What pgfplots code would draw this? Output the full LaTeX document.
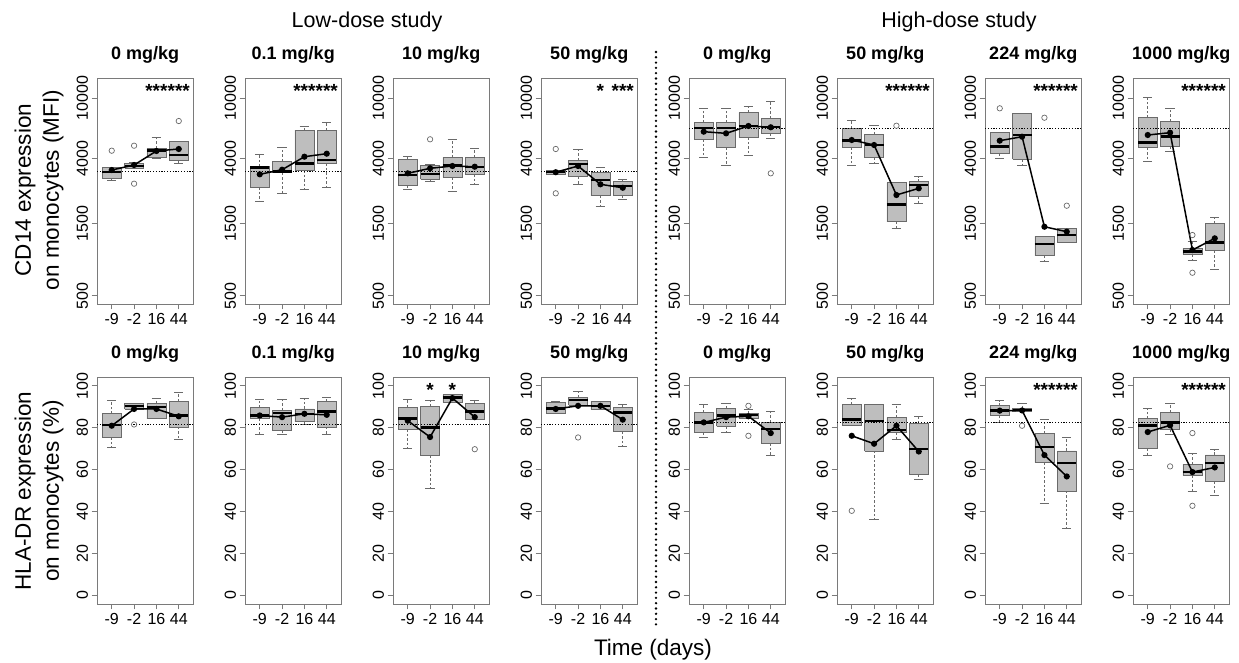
\documentclass[border=0pt]{standalone}
\usepackage{pgfplots}
\pgfplotsset{compat=1.18}
\usepackage{fontspec}
\setmainfont{Liberation Sans}

\definecolor{boxfill}{HTML}{BEBEBE}
\definecolor{boxline}{HTML}{6A6A6A}
\definecolor{framec}{HTML}{7A7A7A}

\newcommand{\tickfont}{\fontsize{16}{18}\selectfont}
\newcommand{\labfont}{\fontsize{22.5}{28}\selectfont}

\pgfplotsset{
  whisk/.style={boxline, line width=0.6pt, dash pattern=on 2.5pt off 2pt},
  cap/.style={boxline, line width=0.7pt},
  boxs/.style={fill=boxfill, draw=boxline, line width=0.7pt, line join=miter},
  med/.style={black, line width=2.4pt},
  outl/.style={only marks, mark=o, mark size=2.7pt, mark options={draw=boxline, line width=0.7pt}},
  panel/.style={
    anchor=south west, scale only axis, width=96.5pt, clip=false,
    xmin=0.34, xmax=4.66, xtick={1,2,3,4}, xticklabels={-9,-2,16,44},
    tick pos=left, tick align=outside, major tick length=5.5pt,
    axis line style={draw=framec, line width=0.8pt},
    every tick/.style={framec, line width=0.8pt},
    tick label style={font=\tickfont, text=black},
    yticklabel style={rotate=90, anchor=south},
    minor tick num=0,
    title style={at={(0.5,1)}, anchor=center, yshift=17pt, font=\bfseries\fontsize{18}{20}\selectfont},
  },
  toprow/.style={panel, height=226pt, ymin=441.6, ymax=13543,
    ytick={500,1500,4000,10000}, yticklabels={500,1500,4000,10000}},
  botrow/.style={panel, height=227pt, ymin=-4.16, ymax=104.16,
    ytick={0,20,40,60,80,100}, yticklabels={0,20,40,60,80,100}},
}

% box: position, lower whisker, lower quartile, median, upper quartile, upper whisker, outliers
\newcommand{\bx}[7]{%
  \pgfmathsetmacro\bxl{#1-0.425}\pgfmathsetmacro\bxr{#1+0.425}%
  \pgfmathsetmacro\cpl{#1-0.21}\pgfmathsetmacro\cpr{#1+0.21}%
  \edef\doit{%
    \noexpand\addplot[whisk] coordinates {(#1,#3) (#1,#2)};
    \noexpand\addplot[whisk] coordinates {(#1,#5) (#1,#6)};
    \noexpand\addplot[cap] coordinates {(\cpl,#2) (\cpr,#2)};
    \noexpand\addplot[cap] coordinates {(\cpl,#6) (\cpr,#6)};
    \noexpand\addplot[boxs] coordinates {(\bxl,#3) (\bxr,#3) (\bxr,#5) (\bxl,#5) (\bxl,#3)};
    \noexpand\addplot[med] coordinates {(\bxl,#4) (\bxr,#4)};
  }\doit
  \if\relax\detokenize{#7}\relax\else\addplot[outl] coordinates {#7};\fi
}
\newcommand{\mn}[4]{\addplot[black, line width=1.5pt, mark=*, mark size=2.3pt]
  coordinates {(1,#1) (2,#2) (3,#3) (4,#4)};}
\newcommand{\rf}[1]{\addplot[black, line width=0.9pt, dash pattern=on 1.1pt off 1.7pt]
  coordinates {(0.34,#1) (4.66,#1)};}
\newcommand{\st}[3]{\node[font=\bfseries\fontsize{19}{20}\selectfont, inner sep=0pt] at (axis cs:#1,#2) {#3};}

\begin{document}
\begin{tikzpicture}
\useasboundingbox (0,0) rectangle (1239pt,663pt);

% ---------- CD14, low dose ----------
\begin{axis}[toprow, ymode=log, at={(97pt,359pt)}, title={0 mg/kg}]
\bx{1}{2888}{2964}{3275}{3500}{3520}{(1,4502)}
\bx{2}{3420}{3448}{3586}{3718}{3750}{(2,4856) (2,2731)}
\bx{3}{4000}{4048}{4502}{4668}{5481}{}
\bx{4}{3737}{3892}{4217}{5160}{5160}{(4,7057)}
\rf{3275}
\mn{3360}{3624}{4480}{4619}
\st{3}{11117}{***}\st{4}{11117}{***}
\end{axis}

\begin{axis}[toprow, ymode=log, at={(245pt,359pt)}, title={0.1 mg/kg}]
\bx{1}{2079}{2597}{3500}{3532}{4263}{}
\bx{2}{2361}{3226}{3292}{3851}{4711}{}
\bx{3}{2520}{3360}{3718}{6159}{6545}{}
\bx{4}{2568}{3718}{3910}{6159}{6920}{}
\rf{3275}
\mn{3148}{3375}{4110}{4302}
\st{3}{11117}{***}\st{4}{11117}{***}
\end{axis}

\begin{axis}[toprow, ymode=log, at={(393pt,359pt)}, title={10 mg/kg}]
\bx{1}{2520}{2665}{3115}{3950}{4110}{}
\bx{2}{2814}{2919}{3164}{3624}{3650}{(2,5350)}
\bx{3}{2419}{3008}{3624}{4073}{5350}{}
\bx{4}{2718}{3148}{3532}{4073}{4668}{}
\rf{3275}
\mn{3196}{3448}{3570}{3532}
\end{axis}

\begin{axis}[toprow, ymode=log, at={(541pt,359pt)}, title={50 mg/kg}]
\bx{1}{3164}{3164}{3260}{3360}{3360}{(1,4619) (1,2361)}
\bx{2}{2706}{3036}{3680}{3910}{4619}{}
\bx{3}{1927}{2277}{2888}{3226}{3500}{}
\bx{4}{2156}{2277}{2649}{2814}{2919}{}
\rf{3275}
\mn{3250}{3570}{2706}{2568}
\st{3}{11117}{*}\st{4}{11117}{***}
\end{axis}

% ---------- CD14, high dose ----------
\begin{axis}[toprow, ymode=log, at={(689pt,359pt)}, title={0 mg/kg}]
\bx{1}{4048}{5350}{6320}{6920}{8554}{}
\bx{2}{3608}{4711}{6320}{6920}{8600}{}
\bx{3}{4217}{5513}{6573}{8004}{8858}{}
\bx{4}{5432}{5855}{6418}{7351}{9455}{(4,3196)}
\rf{6320}
\mn{6003}{5855}{6545}{6418}
\end{axis}

\begin{axis}[toprow, ymode=log, at={(837pt,359pt)}, title={50 mg/kg}]
\bx{1}{3624}{4740}{5238}{6320}{7165}{}
\bx{2}{3718}{4048}{4908}{5736}{6645}{}
\bx{3}{1389}{1536}{1998}{2773}{2773}{(3,6573)}
\bx{4}{2029}{2266}{2666}{2814}{3036}{}
\rf{6320}
\mn{5294}{4908}{2301}{2546}
\st{3}{11117}{***}\st{4}{11117}{***}
\end{axis}

\begin{axis}[toprow, ymode=log, at={(985pt,359pt)}, title={224 mg/kg}]
\bx{1}{4000}{4326}{4783}{5950}{5950}{(1,8554)}
\bx{2}{3586}{3969}{5710}{7930}{7930}{}
\bx{3}{846}{917}{1096}{1236}{1236}{(3,7420)}
\bx{4}{1124}{1124}{1255}{1389}{1389}{(4,1957)}
\rf{6320}
\mn{5238}{5565}{1423}{1320}
\st{3}{11117}{***}\st{4}{11117}{***}
\end{axis}

\begin{axis}[toprow, ymode=log, at={(1133pt,359pt)}, title={1000 mg/kg}]
\bx{1}{3811}{4711}{5083}{7420}{10107}{}
\bx{2}{4435}{4783}{5565}{7057}{8554}{}
\bx{3}{850}{941}{975}{1026}{1134}{(3,1255) (3,709)}
\bx{4}{746}{989}{1118}{1499}{1632}{}
\rf{6320}
\mn{5710}{5916}{1000}{1194}
\st{3}{11117}{***}\st{4}{11117}{***}
\end{axis}

% ---------- HLA-DR, low dose ----------
\begin{axis}[botrow, at={(97pt,59pt)}, title={0 mg/kg}]
\bx{1}{70.7}{75.3}{81.2}{86.6}{92.8}{}
\bx{2}{88.9}{88.9}{90.4}{91.4}{91.7}{(2,81.5)}
\bx{3}{84.2}{84.2}{89.8}{91.7}{93.8}{}
\bx{4}{74.2}{80.3}{85.7}{92.5}{96.8}{}
\rf{81.4}
\mn{80.9}{88.9}{88.9}{85.4}
\end{axis}

\begin{axis}[botrow, at={(245pt,59pt)}, title={0.1 mg/kg}]
\bx{1}{76.8}{84.4}{85.8}{89.5}{93.3}{}
\bx{2}{76.8}{78.5}{86.9}{88.2}{93.3}{}
\bx{3}{81.7}{82.8}{86.5}{88.9}{94.1}{}
\bx{4}{76.8}{80.3}{87.7}{92.5}{94.6}{}
\rf{81.4}
\mn{85.8}{85.0}{86.6}{86.1}
\end{axis}

\begin{axis}[botrow, at={(393pt,59pt)}, title={10 mg/kg}]
\bx{1}{69.9}{79.3}{84.4}{89.8}{93.3}{}
\bx{2}{50.8}{66.6}{80.0}{90.1}{93.0}{}
\bx{3}{92.0}{92.0}{94.4}{95.9}{95.9}{}
\bx{4}{84.1}{84.1}{87.7}{91.7}{93.0}{(4,69.7)}
\rf{81.4}
\mn{83.3}{75.5}{94.1}{85.0}
\st{2}{97.8}{*}\st{3}{97.8}{*}
\end{axis}

\begin{axis}[botrow, at={(541pt,59pt)}, title={50 mg/kg}]
\bx{1}{86.6}{86.6}{89.2}{92.0}{92.5}{}
\bx{2}{90.8}{90.8}{93.3}{94.6}{97.3}{(2,75.3)}
\bx{3}{88.9}{88.9}{90.4}{92.5}{92.5}{}
\bx{4}{71.0}{78.0}{87.3}{89.6}{91.2}{}
\rf{81.4}
\mn{88.9}{90.4}{90.4}{83.8}
\end{axis}

% ---------- HLA-DR, high dose ----------
\begin{axis}[botrow, at={(689pt,59pt)}, title={0 mg/kg}]
\bx{1}{75.5}{77.7}{82.5}{87.3}{90.9}{}
\bx{2}{77.7}{80.6}{85.7}{89.3}{91.7}{}
\bx{3}{84.4}{84.4}{86.1}{86.9}{88.5}{(3,90.4) (3,76.1)}
\bx{4}{67.0}{72.6}{79.3}{82.5}{87.7}{}
\rf{82.5}
\mn{82.5}{85.0}{85.4}{77.4}
\end{axis}

\begin{axis}[botrow, at={(837pt,59pt)}, title={50 mg/kg}]
\bx{1}{80.9}{80.9}{83.8}{90.9}{93.8}{(1,40.3)}
\bx{2}{36.3}{68.9}{83.3}{91.2}{91.2}{}
\bx{3}{74.2}{77.9}{79.0}{84.9}{91.2}{}
\bx{4}{55.1}{57.8}{69.9}{82.2}{85.4}{}
\rf{82.5}
\mn{76.1}{72.3}{80.9}{68.6}
\end{axis}

\begin{axis}[botrow, at={(985pt,59pt)}, title={224 mg/kg}]
\bx{1}{82.5}{85.7}{88.2}{90.4}{92.8}{}
\bx{2}{87.6}{87.6}{88.5}{89.3}{91.7}{(2,80.9)}
\bx{3}{43.9}{63.4}{70.7}{77.4}{83.8}{}
\bx{4}{32.0}{49.8}{63.1}{68.9}{75.5}{}
\rf{82.5}
\mn{88.1}{88.2}{66.9}{56.7}
\st{3}{97.8}{***}\st{4}{97.8}{***}
\end{axis}

\begin{axis}[botrow, at={(1133pt,59pt)}, title={1000 mg/kg}]
\bx{1}{66.6}{70.2}{81.1}{84.2}{89.3}{}
\bx{2}{76.9}{79.0}{82.5}{87.4}{91.7}{(2,61.5)}
\bx{3}{49.8}{57.2}{58.8}{62.6}{67.8}{(3,77.4) (3,42.7)}
\bx{4}{47.6}{54.3}{63.1}{67.0}{69.4}{}
\rf{82.5}
\mn{77.9}{81.1}{58.8}{61.0}
\st{3}{97.8}{***}\st{4}{97.8}{***}
\end{axis}

% ---------- shared labels ----------
\draw[black, line width=2.6pt, line cap=round, dash pattern=on 0pt off 5.3pt]
  (656pt,611pt) -- (656pt,36pt);
\node[font=\fontsize{21.5}{24}\selectfont] at (367pt,641pt) {Low-dose study};
\node[font=\fontsize{21.5}{24}\selectfont] at (959pt,641pt) {High-dose study};
\node[font=\labfont, rotate=90, align=center] at (39pt,473pt) {CD14 expression\\on monocytes (MFI)};
\node[font=\labfont, rotate=90, align=center] at (39pt,172pt) {HLA-DR expression\\on monocytes (\%)};
\node[font=\labfont] at (653pt,13pt) {Time (days)};
\end{tikzpicture}
\end{document}
